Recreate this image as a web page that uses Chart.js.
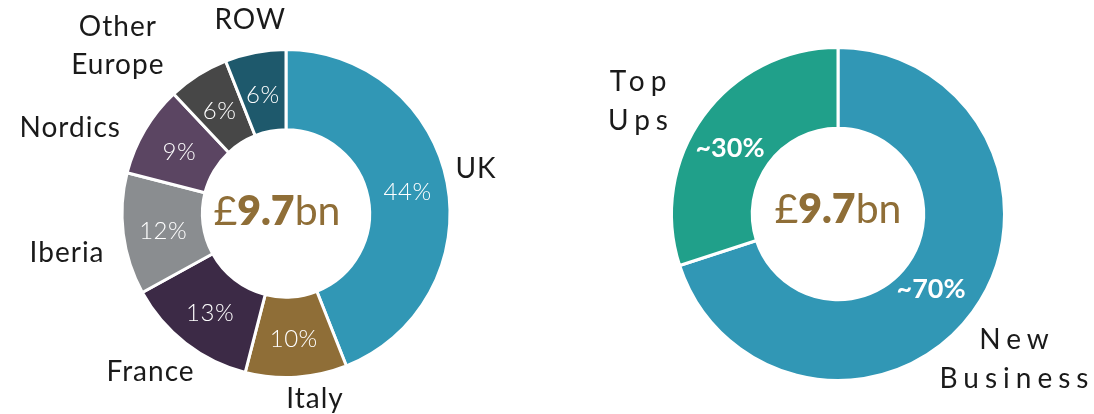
<!DOCTYPE html>
<html><head><meta charset="utf-8">
<script src="https://cdn.jsdelivr.net/npm/chart.js@4/dist/chart.umd.min.js"></script>
<style>
html,body{margin:0;padding:0;background:#fff;width:1094px;height:414px;overflow:hidden;}
#c1{position:absolute;left:0;top:0;}
#c2{position:absolute;left:572px;top:0;}
</style></head><body>
<canvas id="c1" width="572" height="414"></canvas>
<canvas id="c2" width="522" height="414"></canvas>
<script>
// ---- data ----
const regionLabels = ['UK', 'Italy', 'France', 'Iberia', 'Nordics', ['Other', 'Europe'], 'ROW'];
const regionShares = [44, 10, 13, 12, 9, 6, 6];
const businessLabels = [['New', 'Business'], ['Top', 'Ups']];
const businessShares = [70, 30];
const centerTotal = '9.7';

// ---- styles ----
const regionColors = ['#3197b5', '#8f6e37', '#3c2a46', '#8a8d90', '#5b4562', '#474747', '#1e596c'];
const businessColors = ['#3197b5', '#20a08a'];
const regionNudges = [[-6,-7],[16,-13],[-14,1],[-22,15],[-45,16],[-62,0],[1,2]];
const regionPctNudges = [[0,2],[0,2],[0,2],[0,2],[0,2],[0,2],[0,3]];
const businessNudges = [[13,27],[-37,6]];
const businessPctNudges = [[-9,1],[-6,8]];
const FONT = 'Lato, "Open Sans", sans-serif';

function labelPlugin(opts) {
  return {
    id: 'lbl',
    afterDatasetsDraw(chart) {
      const ctx = chart.ctx;
      const meta = chart.getDatasetMeta(0);
      const ds = chart.data.datasets[0];
      ctx.save();
      ctx.textAlign = 'center';
      ctx.textBaseline = 'middle';
      meta.data.forEach((arc, i) => {
        const p = arc.getProps(['x','y','startAngle','endAngle','innerRadius','outerRadius'], true);
        const mid = (p.startAngle + p.endAngle) / 2;
        // percentage inside
        const tp = arc.tooltipPosition(true);
        const pn = opts.pctNudges ? opts.pctNudges[i] : [0,0];
        ctx.fillStyle = '#ffffff';
        ctx.font = opts.pctFont;
        ctx.letterSpacing = opts.pctSpacing;
        ctx.fillText(opts.pctText(ds.data[i]), tp.x + pn[0], tp.y + pn[1]);
        // outside label
        const r = p.outerRadius + 35;
        const ax = p.x + Math.cos(mid) * r + opts.nudges[i][0];
        const ay = p.y + Math.sin(mid) * r + opts.nudges[i][1];
        const lines = Array.isArray(chart.data.labels[i]) ? chart.data.labels[i] : [chart.data.labels[i]];
        ctx.fillStyle = '#1a1a1a';
        ctx.font = opts.labelFont;
        ctx.letterSpacing = opts.spacing + 'px';
        const lh = opts.lineHeight;
        lines.forEach((ln, k) => {
          const yy = ay + (k - (lines.length - 1) / 2) * lh;
          ctx.fillText(ln, ax + opts.spacing / 2, yy);
        });
      });
      // center text
      const a = meta.data[0];
      const cx = a.x + opts.centerNudge[0], cy = a.y + opts.centerNudge[1];
      ctx.letterSpacing = '0px';
      const parts = [['£', '400 41px ' + FONT], [centerTotal, '800 41px ' + FONT], ['bn', '400 41px ' + FONT]];
      let total = 0;
      parts.forEach(pt => { ctx.font = pt[1]; total += ctx.measureText(pt[0]).width; });
      let x = cx - total / 2;
      ctx.textAlign = 'left';
      ctx.fillStyle = '#8f6e37';
      parts.forEach(pt => { ctx.font = pt[1]; ctx.fillText(pt[0], x, cy); x += ctx.measureText(pt[0]).width; });
      ctx.restore();
    }
  };
}

new Chart(document.getElementById('c1'), {
  type: 'doughnut',
  data: { labels: regionLabels, datasets: [{ data: regionShares, backgroundColor: regionColors, borderColor: '#ffffff', borderWidth: 3 }] },
  options: {
    responsive: false, animation: false, cutout: '51%',
    layout: { padding: { top: 48, bottom: 35, left: 0, right: 0 } },
    plugins: { legend: { display: false }, tooltip: { enabled: false } }
  },
  plugins: [labelPlugin({
    nudges: regionNudges, pctNudges: regionPctNudges, pctFont: '300 24px ' + FONT, pctSpacing: '0.5px',
    labelFont: '400 28px ' + FONT, spacing: 1, lineHeight: 38, pctText: v => v + '%',
    centerNudge: [-9, -2]
  })]
});

new Chart(document.getElementById('c2'), {
  type: 'doughnut',
  data: { labels: businessLabels, datasets: [{ data: businessShares, backgroundColor: businessColors, borderColor: '#ffffff', borderWidth: 3 }] },
  options: {
    responsive: false, animation: false, cutout: '51.5%',
    layout: { padding: { top: 46, bottom: 32, left: 10, right: 0 } },
    plugins: { legend: { display: false }, tooltip: { enabled: false } }
  },
  plugins: [labelPlugin({
    nudges: businessNudges, pctNudges: businessPctNudges, pctFont: '700 27px ' + FONT, pctSpacing: '0px',
    labelFont: '400 28px ' + FONT, spacing: 6, lineHeight: 39, pctText: v => '~' + v + '%',
    centerNudge: [0, -4]
  })]
});
</script>
</body></html>
